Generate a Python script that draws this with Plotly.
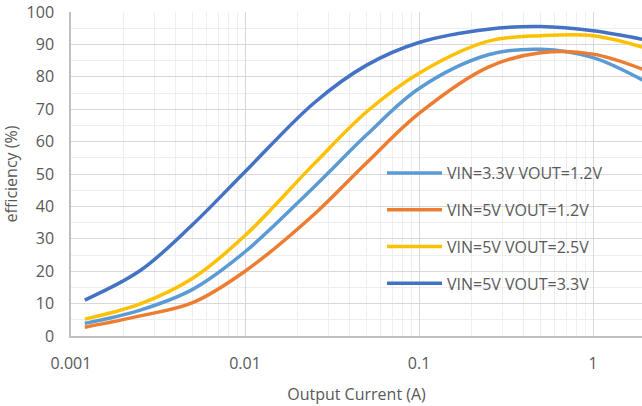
import math
import plotly.graph_objects as go

current_a = [0.0012, 0.0025, 0.005, 0.01, 0.025, 0.05, 0.1, 0.25, 0.5, 1, 2]

eff_33_12 = [3.9, 8.0, 14.4, 26.0, 46.1, 62.1, 76.4, 86.8, 88.5, 85.9, 78.5]
eff_5_12 = [2.7, 6.2, 10.3, 20.0, 37.6, 53.5, 68.7, 83.0, 87.4, 87.0, 82.0]
eff_5_25 = [5.2, 9.9, 17.8, 31.0, 53.2, 69.2, 81.1, 91.0, 92.7, 92.7, 88.9]
eff_5_33 = [11.1, 20.2, 34.4, 50.7, 72.0, 83.6, 90.6, 94.7, 95.5, 94.2, 91.4]

series_names = ["VIN=3.3V VOUT=1.2V", "VIN=5V VOUT=1.2V", "VIN=5V VOUT=2.5V", "VIN=5V VOUT=3.3V"]
series_vals = [eff_33_12, eff_5_12, eff_5_25, eff_5_33]
colors = ["#5B9BD5", "#ED7D31", "#FFC000", "#4472C4"]

x_ticks = [0.001, 0.01, 0.1, 1]
x_tick_text = ["0.001", "0.01", "0.1", "1"]

FONT = "Open Sans"
TXT = "#595959"

fig = go.Figure()
for i, (name, vals, col) in enumerate(zip(series_names, series_vals, colors)):
    fig.add_trace(go.Scatter(
        x=current_a, y=vals, mode="lines", name=name,
        line=dict(color=col, width=3.5, shape="spline", smoothing=1.0),
        legendgroup=f"g{i}",
    ))

minor_x = [m * 10 ** e for e in range(-3, 1) for m in range(2, 10)]

fig.update_layout(
    width=642, height=406,
    margin=dict(l=71, r=0, t=12, b=70),
    paper_bgcolor="white", plot_bgcolor="white",
    font=dict(family=FONT, size=16, color=TXT),
    showlegend=True,
    legend=dict(
        x=(382 - 71) / 571, y=(336 - 156) / 324, xanchor="left", yanchor="top",
        bgcolor="rgba(0,0,0,0)", borderwidth=0,
        font=dict(family=FONT, size=16, color=TXT),
        traceorder="grouped", tracegroupgap=13, itemwidth=55,
    ),
    xaxis=dict(
        type="log", range=[-3, math.log10(1.91)],
        tickvals=x_ticks, ticktext=x_tick_text,
        showgrid=True, gridcolor="#d9d9d9", gridwidth=1,
        minor=dict(tickvals=minor_x, showgrid=True, gridcolor="#eeeeee", gridwidth=1),
        showline=True, linecolor="#bfbfbf", linewidth=1.5,
        ticks="", ticklabelstandoff=12, zeroline=False,
        title=dict(text="Output Current (A)", standoff=16, font=dict(size=16, color=TXT)),
    ),
    yaxis=dict(
        range=[0, 100], dtick=10,
        showgrid=True, gridcolor="#d9d9d9", gridwidth=1,
        minor=dict(dtick=5, showgrid=True, gridcolor="#eeeeee", gridwidth=1),
        showline=True, linecolor="#bfbfbf", linewidth=1.5,
        ticks="", ticklabelstandoff=12, zeroline=False,
        title=dict(text="efficiency (%)", standoff=10, font=dict(size=16, color=TXT)),
    ),
)

fig.write_html("out.html", config={"displayModeBar": False},
               post_script="document.body.style.margin='0px';")
